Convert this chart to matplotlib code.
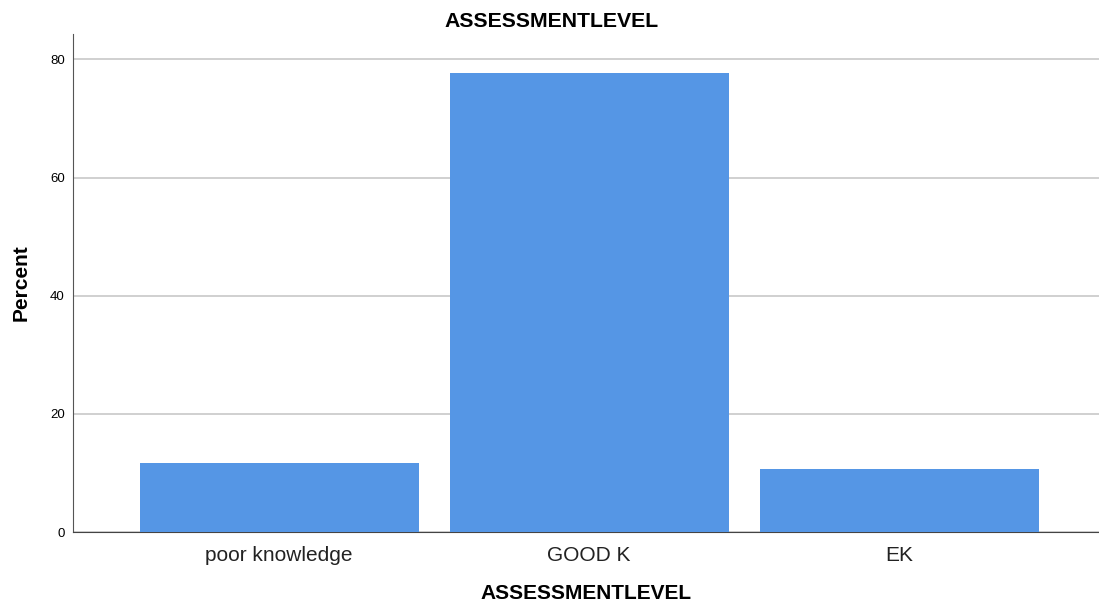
import matplotlib
matplotlib.use('Agg')
import matplotlib.pyplot as plt

plt.rcParams['font.family'] = ['Liberation Sans', 'DejaVu Sans']

categories = ['poor knowledge', 'GOOD K', 'EK']
percents = [11.6, 77.7, 10.7]
yticks = [0, 20, 40, 60, 80]

fig = plt.figure(figsize=(10.99, 6.03), dpi=100)
ax = fig.add_axes([0.0664, 0.1177, 0.9336, 0.8259])

x = range(len(categories))
ax.bar(x, percents, width=0.9, color='#5596e5', zorder=3)

ax.set_xlim(-0.665, 2.645)
ax.set_ylim(0, 84.3)
ax.set_yticks(yticks)
ax.set_xticks(list(x))
ax.set_xticklabels(categories, fontsize=15, color='#222222')
ax.tick_params(axis='y', labelsize=9.5, length=0, pad=6)
ax.tick_params(axis='x', length=0, pad=10)
ax.grid(axis='y', color='#c8c8c8', linewidth=1.2, zorder=0)

for s in ['top', 'right']:
    ax.spines[s].set_visible(False)
ax.spines['left'].set_color('#555555')
ax.spines['bottom'].set_color('#444444')

# title is centred on the figure, not the axes
fig.text(0.502, 0.965, 'ASSESSMENTLEVEL', fontsize=15.3, fontweight='bold',
         ha='center', va='center')
ax.set_xlabel('ASSESSMENTLEVEL', fontsize=15, fontweight='bold', labelpad=14)
ax.set_ylabel('Percent', fontsize=15, fontweight='bold', labelpad=14)

fig.savefig('out.png', dpi=100)
